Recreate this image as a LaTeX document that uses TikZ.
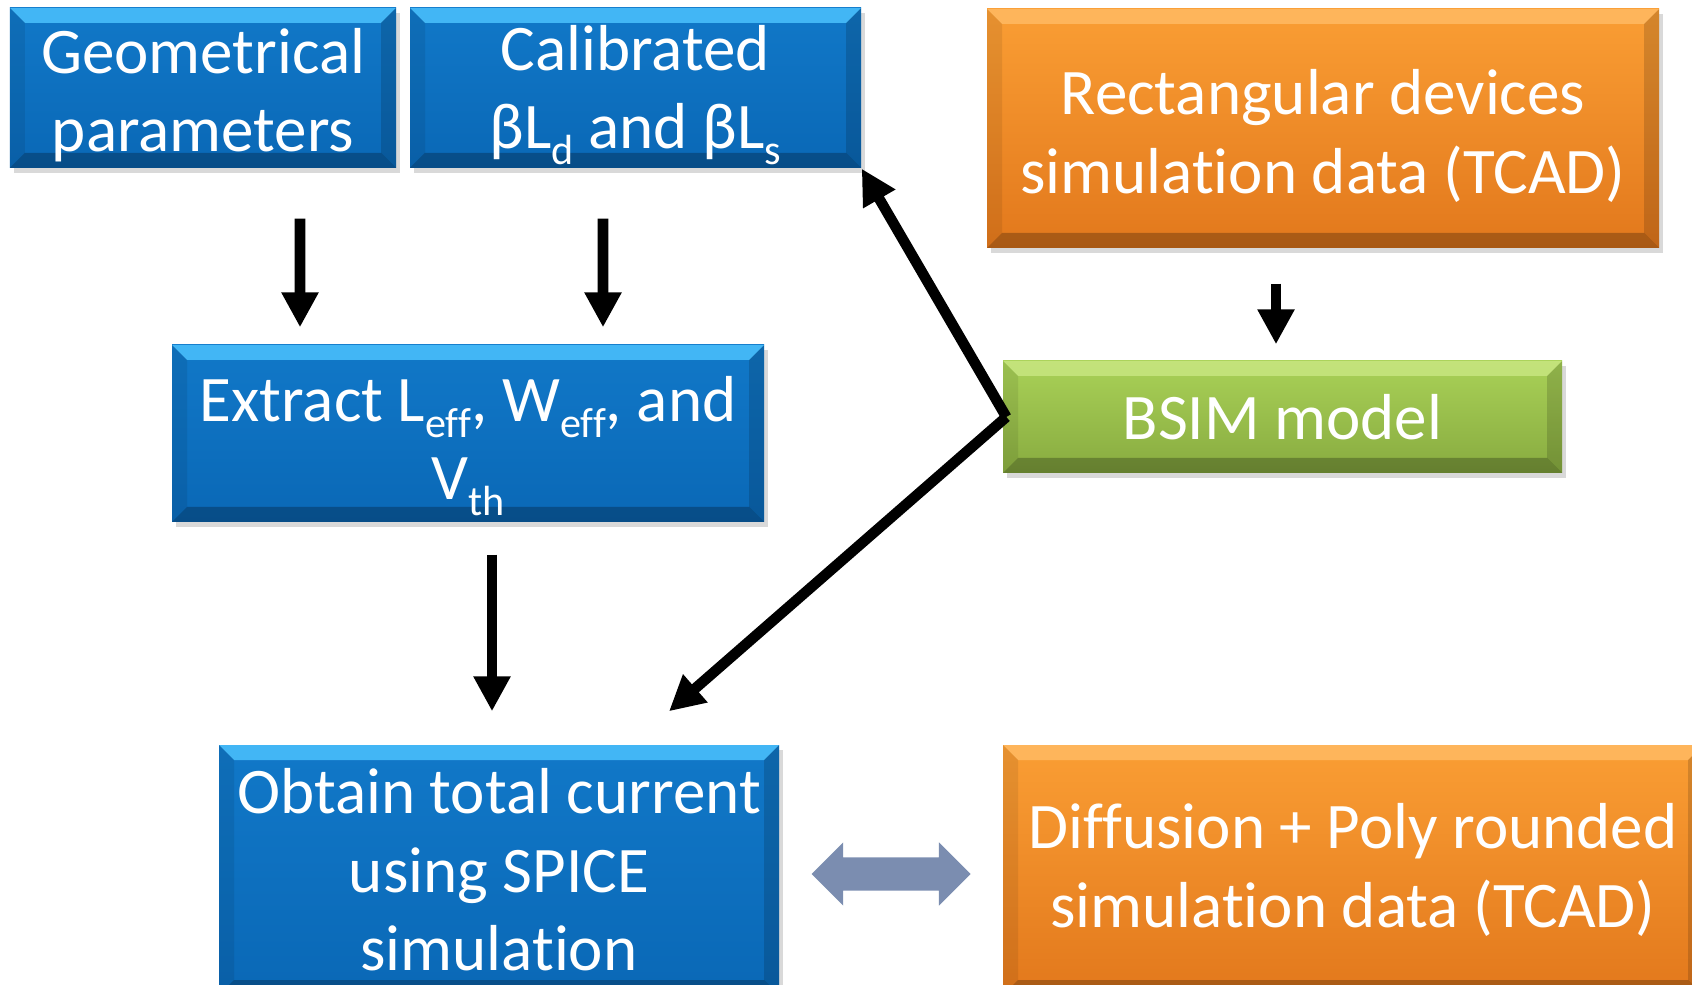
\documentclass[tikz,border=0pt]{standalone}
\usepackage{fontspec}
\setmainfont{Carlito}[Ligatures=NoCommon]
\usetikzlibrary{arrows.meta, positioning, calc, shadows, shapes.arrows}

\definecolor{blueTop}{HTML}{1178C8}
\definecolor{blueBot}{HTML}{0A68B6}
\definecolor{blueRim}{HTML}{48BDFA}
\definecolor{orangeTop}{HTML}{FA9E34}
\definecolor{orangeBot}{HTML}{E2781C}
\definecolor{orangeRim}{HTML}{FFB860}
\definecolor{greenTop}{HTML}{A9D157}
\definecolor{greenBot}{HTML}{88AB40}
\definecolor{greenRim}{HTML}{C6E57E}
\definecolor{linkgray}{HTML}{7B8DB0}

\newcommand\bevw{0.15}
% tiefgestellte Indizes wie in der Vorlage
\newcommand\idx[1]{\raisebox{-4.5pt}{\fontsize{12}{12}\selectfont #1}}
\newcommand\lift[1]{\rule{0pt}{#1}}

\begin{document}
\begin{tikzpicture}[line join=round,
    % beveled box, lighter on top, darker at the bottom
    rim/.store in=\rimcolor, rim=white,
    box/.style={inner sep=0pt, align=center, text=white,
      font=\fontsize{18.5}{22.3}\selectfont,
      drop shadow={opacity=.3, shadow xshift=.04, shadow yshift=-.05},
      path picture={
        \coordinate (bsw) at (path picture bounding box.south west);
        \coordinate (bne) at (path picture bounding box.north east);
        \coordinate (bnw) at (bsw |- bne);
        \coordinate (bse) at (bne |- bsw);
        \fill[\rimcolor, opacity=.9] (bnw) -- (bne) -- ([shift={(-\bevw,-\bevw)}]bne) -- ([shift={(\bevw,-\bevw)}]bnw) -- cycle;
        \fill[black, opacity=.08] (bnw) -- ([shift={(\bevw,-\bevw)}]bnw) -- ([shift={(\bevw,\bevw)}]bsw) -- (bsw) -- cycle;
        \fill[black, opacity=.15] (bne) -- ([shift={(-\bevw,-\bevw)}]bne) -- ([shift={(-\bevw,\bevw)}]bse) -- (bse) -- cycle;
        \fill[black, opacity=.25] (bsw) -- ([shift={(\bevw,\bevw)}]bsw) -- ([shift={(-\bevw,\bevw)}]bse) -- (bse) -- cycle;
      }},
    bluebox/.style={box, rim=blueRim, top color=blueTop, bottom color=blueBot},
    orangebox/.style={box, rim=orangeRim, top color=orangeTop, bottom color=orangeBot},
    greenbox/.style={box, rim=greenRim, top color=greenTop, bottom color=greenBot},
    arr/.style={-{Triangle[length=3.5mm, width=3.5mm]}, line width=3pt},
    swaparrow/.style={double arrow, fill=linkgray, inner xsep=0pt, inner ysep=0.16cm,
      minimum height=1.59cm, double arrow head extend=0.15cm}
  ]
  \useasboundingbox (0,0) rectangle (16.92,-9.85);

  % Eingaben oben
  \node[bluebox, minimum width=3.86cm, minimum height=1.60cm] (geo) at (2.03,-0.88) {\lift{17pt}Geometrical\\parameters};
  \node[bluebox, minimum width=4.51cm, minimum height=1.60cm] (calib) at (6.355,-0.88) {\lift{17pt}Calibrated\\βL\idx{d} and βL\idx{s}};
  \node[orangebox, minimum width=6.72cm, minimum height=2.39cm] (rect) at (13.23,-1.285) {\lift{17pt}Rectangular devices\\simulation data (TCAD)};

  % Mitte
  \node[bluebox, minimum width=5.92cm, minimum height=1.77cm] (extract) at (4.68,-4.335) {\lift{20pt}Extract L\idx{eff}, W\idx{eff}, and\\V\idx{th}};
  \node[greenbox, minimum width=5.59cm, minimum height=1.12cm] (bsim) at (12.825,-4.17) {BSIM model};

  % unten
  \node[bluebox, minimum width=5.60cm, minimum height=2.50cm] (obtain) at (4.99,-8.70) {Obtain total current\\using SPICE\\simulation};
  \node[orangebox, minimum width=7.00cm, minimum height=2.50cm] (diff) at (13.53,-8.70) {Diffusion + Poly rounded\\simulation data (TCAD)};

  % Pfeile
  \draw[arr] ([shift={(0.97,-0.50)}]geo.south) -- ([shift={(-1.68,0.17)}]extract.north);
  \draw[arr] ([shift={(-0.325,-0.50)}]calib.south) -- ([shift={(1.35,0.17)}]extract.north);
  \draw[arr] ([shift={(-0.47,-0.35)}]rect.south) -- ([shift={(-0.065,0.16)}]bsim.north);
  \draw[arr] ([shift={(0.24,-0.32)}]extract.south) -- ([shift={(-0.07,0.33)}]obtain.north);
  \draw[arr] ([xshift=0.04cm]bsim.west) -- (calib.south east);
  \draw[arr] ([xshift=0.04cm]bsim.west) -- ([shift={(1.70,0.33)}]obtain.north);

  % Vergleich
  \node[swaparrow] (swap) at ($(obtain.east)!.5!(diff.west)+(0,-0.04)$) {};
\end{tikzpicture}
\end{document}
